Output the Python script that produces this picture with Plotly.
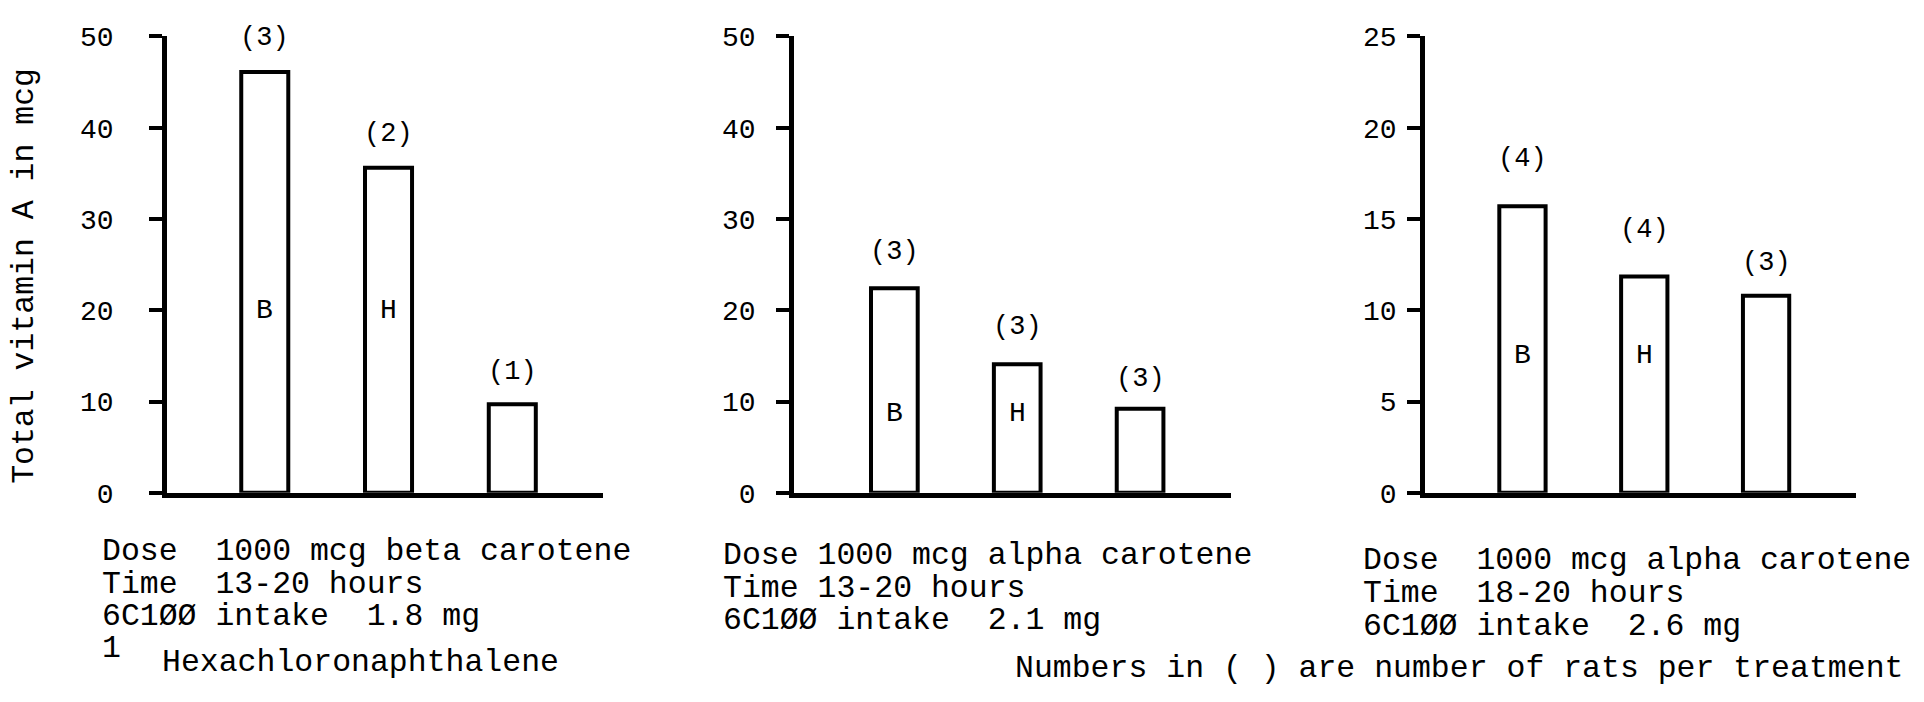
import plotly.graph_objects as go

# ---------------- data ----------------
categories = ["B", "H", "C"]
bar_letters = ["B", "H", ""]

beta_values = [46.1, 35.6, 9.7]
beta_rats = ["(3)", "(2)", "(1)"]

alpha1_values = [22.4, 14.1, 9.2]
alpha1_rats = ["(3)", "(3)", "(3)"]

alpha2_values = [15.7, 11.85, 10.8]
alpha2_rats = ["(4)", "(4)", "(3)"]

y_ticks_50 = [0, 10, 20, 30, 40, 50]
y_ticks_25 = [0, 5, 10, 15, 20, 25]

y_title = "Total vitamin A in mcg"
panel1_notes = ["Dose  1000 mcg beta carotene", "Time  13-20 hours", "6C1ØØ intake  1.8 mg"]
panel2_notes = ["Dose 1000 mcg alpha carotene", "Time 13-20 hours", "6C1ØØ intake  2.1 mg"]
panel3_notes = ["Dose  1000 mcg alpha carotene", "Time  18-20 hours", "6C1ØØ intake  2.6 mg"]
footnote_mark = "1"
footnote_text = "Hexachloronaphthalene"
bottom_note = "Numbers in ( ) are number of rats per treatment"

# ---------------- styling / layout ----------------
W, H = 1924, 702
FONT = "Liberation Mono, Courier New, monospace"
INK = "black"
NOTE_PX = 31.5


def fx(p):
    return p / W


def fy(p):
    return 1 - p / H


panels = [
    dict(values=beta_values, rats=beta_rats, ticks=y_ticks_50, rng=[0, 50],
         dom=[167, 603], xr=[-0.79, 2.733], standoff=30, letter_y=20,
         shifts=[34, 34, 32]),
    dict(values=alpha1_values, rats=alpha1_rats, ticks=y_ticks_50, rng=[0, 50],
         dom=[794, 1230.5], xr=[-0.817, 2.736], standoff=15, letter_y=8.7,
         shifts=[36, 37, 30]),
    dict(values=alpha2_values, rats=alpha2_rats, ticks=y_ticks_25, rng=[0, 25],
         dom=[1425, 1855.5], xr=[-0.80, 2.734], standoff=5, letter_y=7.5,
         shifts=[47, 46, 33]),
]

y_dom = [fy(502), fy(24.5)]

fig = go.Figure()
annotations = []
layout = {}

for i, p in enumerate(panels):
    n = "" if i == 0 else str(i + 1)
    xa, ya = "x" + n, "y" + n
    fig.add_trace(go.Bar(
        x=categories, y=p["values"], xaxis=xa, yaxis=ya,
        width=0.38,
        marker=dict(color="white", line=dict(color=INK, width=4)),
        showlegend=False, hoverinfo="y",
    ))
    layout["xaxis" + n] = dict(
        domain=[fx(p["dom"][0]), fx(p["dom"][1])], anchor=ya,
        type="category", categoryorder="array", categoryarray=categories,
        range=p["xr"], showline=True, linecolor=INK, linewidth=4.5,
        ticks="", showticklabels=False, showgrid=False, zeroline=False,
        fixedrange=True,
    )
    layout["yaxis" + n] = dict(
        domain=y_dom, anchor=xa, range=p["rng"], tickvals=p["ticks"],
        showline=True, linecolor=INK, linewidth=4.5,
        ticks="outside", ticklen=13, tickwidth=3.5, tickcolor=INK,
        ticklabelstandoff=p["standoff"],
        tickfont=dict(family=FONT, size=28, color=INK),
        showgrid=False, zeroline=False, fixedrange=True,
    )
    for c, v, r, s, letter in zip(categories, p["values"], p["rats"], p["shifts"], bar_letters):
        annotations.append(dict(
            x=c, y=v, xref=xa, yref=ya, text=r, showarrow=False,
            yanchor="middle", yshift=s,
            font=dict(family=FONT, size=27, color=INK),
        ))
        if letter:
            annotations.append(dict(
                x=c, y=p["letter_y"], xref=xa, yref=ya, text=letter,
                showarrow=False, yanchor="middle",
                font=dict(family=FONT, size=28, color=INK),
            ))

# y-axis title
annotations.append(dict(
    x=fx(25), y=fy(275), xref="paper", yref="paper", text=y_title,
    textangle=-90, showarrow=False, xanchor="center", yanchor="middle",
    font=dict(family=FONT, size=31.5, color=INK),
))


def note_block(lines, x0, y_top, line_gap):
    # one text block; line spacing in plotly is 1.3 x the base font size,
    # the glyphs themselves are drawn at NOTE_PX through a span style
    body = "<br>".join(
        '<span style="font-size:%spx">%s</span>' % (NOTE_PX, t) for t in lines)
    annotations.append(dict(
        x=fx(x0), y=fy(y_top), xref="paper", yref="paper", text=body,
        showarrow=False, xanchor="left", yanchor="top", align="left",
        font=dict(family=FONT, size=line_gap / 1.3, color=INK),
    ))


def note_line(text, x0, yc):
    annotations.append(dict(
        x=fx(x0), y=fy(yc), xref="paper", yref="paper", text=text,
        showarrow=False, xanchor="left", yanchor="middle",
        font=dict(family=FONT, size=NOTE_PX, color=INK),
    ))


note_block(panel1_notes, 100, 543, 32.5)
note_block(panel2_notes, 721, 547, 32.5)
note_block(panel3_notes, 1361, 552, 33)
note_line(footnote_mark, 100, 665)
note_line(footnote_text, 160, 679)
note_line(bottom_note, 1013, 686)

layout.update(
    width=W, height=H, autosize=False,
    margin=dict(l=0, r=0, t=0, b=0, pad=0),
    paper_bgcolor="white", plot_bgcolor="white",
    annotations=annotations, bargap=0.6,
    font=dict(family=FONT, color=INK),
)
fig.update_layout(**layout)

fig.write_html("out.html", config={"displayModeBar": False},
               post_script="document.body.style.margin='0';document.body.style.overflow='hidden';")
